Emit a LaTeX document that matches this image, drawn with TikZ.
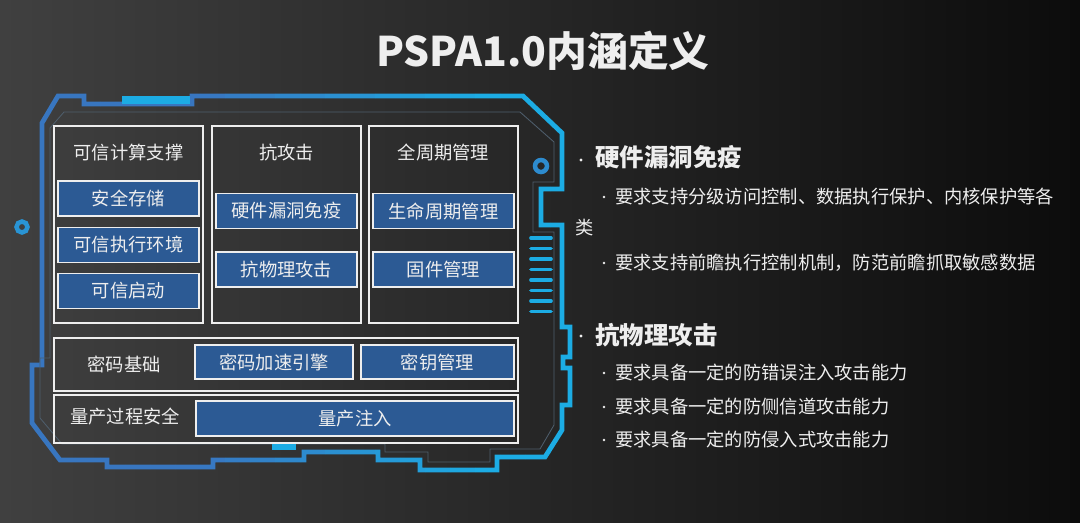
\documentclass[tikz,border=0pt]{standalone}
\usepackage{fontspec}
\setmainfont{Noto Sans CJK SC}
\usetikzlibrary{positioning}

\definecolor{bgleft}{RGB}{64,64,64}
\definecolor{bgmid}{RGB}{42,42,42}
\definecolor{bgright}{RGB}{12,12,12}
\definecolor{frameblue}{RGB}{56,118,192}
\definecolor{framecyan}{RGB}{28,172,228}
\definecolor{boxblue}{RGB}{44,90,148}
\definecolor{thinline}{RGB}{78,94,108}
\definecolor{txt}{RGB}{238,238,238}

\tikzset{
	panelbox/.style={draw=txt, line width=1.3pt, inner sep=0pt},
	bluebox/.style={draw=txt, fill=boxblue, line width=1.2pt, text=txt,
		font=\fontsize{13}{15}\selectfont, inner sep=0pt},
	paneltxt/.style={text=txt, font=\fontsize{13}{15}\selectfont, inner sep=0pt},
	headtxt/.style={text=txt, font=\bfseries\fontsize{17.4}{20}\selectfont,
		anchor=west, inner sep=0pt},
	subtxt/.style={text=txt, font=\fontsize{13}{15}\selectfont,
		anchor=west, inner sep=0pt},
}

\begin{document}
\begin{tikzpicture}[x=0.025cm, y=-0.025cm]

	\def\px{0.025cm}
	% panel columns
	\def\xA{128.5}
	\def\xB{286.5}
	\def\xC{443.5}
	\def\bw{141}
	\def\bh{35}

	% background
	\shade[left color=bgleft, middle color=bgmid, right color=bgright]
		(0,0) rectangle (1080,522);
	\useasboundingbox (0,0) rectangle (1080,522);

	% title
	\node[text=txt, font=\bfseries\fontsize{29}{34}\selectfont, inner sep=0pt]
		(title) at (543,51) {PSPA1.0内涵定义};

	% frame, blue on the left turning cyan on the right
	\def\framepath{(42,365) -- (42,123) -- (58,96) -- (84,96) -- (84,104)
		-- (192,104) -- (192,96) -- (523,96) -- (562,133) -- (562,189)
		-- (541,189) -- (541,225) -- (562,225) -- (562,327) -- (570,327)
		-- (570,357) -- (563,357) -- (563,368) -- (570,368) -- (570,405)
		-- (562,405) -- (562,430) -- (545,457) -- (497,457) -- (497,470)
		-- (420,470) -- (420,460) -- (378,460) -- (378,452) -- (304,452)
		-- (304,460) -- (213,460) -- (213,467) -- (107,467) -- (107,460)
		-- (60,460) -- (32,423) -- (32,365) -- cycle}
	\foreach \i in {0,...,23}{
		\pgfmathtruncatemacro\mix{min(100,max(0,(\i*25+12-200)/2.8))}
		\begin{scope}
			\clip (\i*25,0) rectangle ({(\i+1)*25},522);
			\draw[framecyan!\mix!frameblue, line width=3.4pt, line join=miter]
				\framepath;
		\end{scope}
	}
	\draw[thinline, line width=0.6pt]
		(50,358) -- (50,128) -- (64,112) -- (520,112) -- (554,142)
		-- (554,182) -- (533,182) -- (533,232) -- (554,232) -- (554,425)
		-- (540,449) -- (490,449) -- (490,462) -- (428,462) -- (428,452)
		-- (385,452) -- (385,444) -- (62,444) -- (40,418) -- (40,358) -- cycle;

	% cyan marks
	\fill[framecyan] (122,96) rectangle (190,104);
	\fill[framecyan] (272,444) rectangle (296,450);
	\foreach \y in {238, 248.5, ..., 313}{
		\draw[framecyan, line width=2.6pt, line cap=round]
			(531,\y) -- (551,\y);
	}
	\draw[framecyan!55!frameblue, line width=3.2pt] (22,227) circle (5.5);
	\draw[framecyan!40!frameblue, line width=3.2pt] (541,166) circle (6);

	% panels
	\node[panelbox, minimum width=149*\px, minimum height=197*\px]
		(trust) at (\xA,224.5) {};
	\node[panelbox, minimum width=149*\px, minimum height=197*\px]
		(attack) at (\xB,224.5) {};
	\node[panelbox, minimum width=149*\px, minimum height=197*\px]
		(cycle) at (\xC,224.5) {};
	\node[paneltxt] (trustT) at (\xA,153) {可信计算支撑};
	\node[paneltxt] (attackT) at (\xB,153) {抗攻击};
	\node[paneltxt] (cycleT) at (\xC,153) {全周期管理};

	\node[bluebox, minimum width=\bw*\px, minimum height=\bh*\px]
		(store) at (\xA,198.5) {安全存储};
	\node[bluebox, minimum width=\bw*\px, minimum height=\bh*\px]
		(tee) at (\xA,245) {可信执行环境};
	\node[bluebox, minimum width=\bw*\px, minimum height=\bh*\px]
		(boot) at (\xA,291) {可信启动};
	\node[bluebox, minimum width=\bw*\px, minimum height=\bh*\px]
		(immune) at (\xB,211) {硬件漏洞免疫};
	\node[bluebox, minimum width=\bw*\px, minimum height=\bh*\px]
		(phys) at (\xB,269.5) {抗物理攻击};
	\node[bluebox, minimum width=\bw*\px, minimum height=\bh*\px]
		(life) at (\xC,211) {生命周期管理};
	\node[bluebox, minimum width=\bw*\px, minimum height=\bh*\px]
		(fw) at (\xC,269.5) {固件管理};

	% crypto row
	\node[panelbox, minimum width=464*\px, minimum height=53*\px]
		(crypto) at (286,364.5) {};
	\node[paneltxt] (cryptoT) at (124,364) {密码基础};
	\node[bluebox, minimum width=158*\px, minimum height=34*\px]
		(accel) at (274,362) {密码加速引擎};
	\node[bluebox, minimum width=153*\px, minimum height=34*\px]
		(keys) at (437.5,362) {密钥管理};

	% production row
	\node[panelbox, minimum width=464*\px, minimum height=48*\px]
		(prod) at (286,419) {};
	\node[paneltxt] (prodT) at (125,417) {量产过程安全};
	\node[bluebox, minimum width=318*\px, minimum height=35*\px]
		(inject) at (355,418.5) {量产注入};

	% right text
	\foreach \y in {160, 336}{
		\fill[txt] (581,\y) circle (1.7);
	}
	\foreach \y in {197, 263, 373, 407, 440}{
		\fill[txt] (604,\y) circle (1.4);
	}
	\node[headtxt] (immuneH) at (595,157) {硬件漏洞免疫};
	\node[subtxt] (immune1) at (615,197)
		{要求支持分级访问控制、数据执行保护、内核保护等各};
	\node[subtxt] (immune1b) at (575,228) {类};
	\node[subtxt] (immune2) at (615,263)
		{要求支持前瞻执行控制机制，防范前瞻抓取敏感数据};
	\node[headtxt] (physH) at (595,335) {抗物理攻击};
	\node[subtxt] (phys1) at (615,373) {要求具备一定的防错误注入攻击能力};
	\node[subtxt] (phys2) at (615,407) {要求具备一定的防侧信道攻击能力};
	\node[subtxt] (phys3) at (615,440) {要求具备一定的防侵入式攻击能力};

\end{tikzpicture}
\end{document}
